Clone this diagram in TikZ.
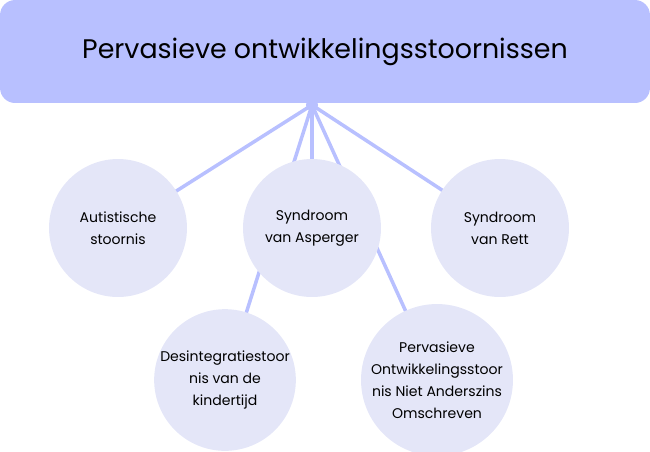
\documentclass[tikz,border=0pt]{standalone}
\usepackage{fontspec}
\setmainfont{Poppins}
\usetikzlibrary{positioning}
\definecolor{headerblue}{RGB}{184, 192, 255}
\definecolor{circlefill}{RGB}{228, 230, 248}
\definecolor{linkblue}{RGB}{184, 192, 255}

\begin{document}
\begin{tikzpicture}[
    x=0.02cm, y=-0.02cm,
    topic/.style={circle, fill=circlefill, minimum size=2.76cm, align=center,
                  font=\fontsize{8}{12.5}\selectfont, inner sep=0pt},
    link/.style={draw=linkblue, line width=2pt}
]
    \useasboundingbox (0,0) rectangle (650,451);
    % Header
    \node[fill=headerblue, rounded corners=0.3cm, minimum width=13cm, minimum height=2.06cm,
          font=\fontsize{15.3}{18}\selectfont, inner sep=0pt] (header) at (325,51.5)
          {Pervasieve ontwikkelingsstoornissen};
    \coordinate (hub) at (312,105);

    % Links (under the circles)
    \coordinate (c1) at (118,228);
    \coordinate (c2) at (312,228);
    \coordinate (c3) at (500,228);
    \coordinate (c4) at (225,380);
    \coordinate (c5) at (437,380);
    \foreach \c in {c1,c2,c3,c4,c5}
        \draw[link] (hub) -- (\c);
    \fill[linkblue] (hub) circle (0.12cm);

    % Topics
    \node[topic] (autism) at (c1) {Autistische\\stoornis};
    \node[topic] (asperger) at (c2) {Syndroom\\van Asperger};
    \node[topic] (rett) at (c3) {Syndroom\\van Rett};
    \node[topic] (cdd) at (c4) {Desintegratiestoor\\nis van de\\kindertijd};
    \node[topic] (pddnos) at (c5) {Pervasieve\\Ontwikkelingsstoor\\nis Niet Anderszins\\Omschreven};
\end{tikzpicture}
\end{document}
